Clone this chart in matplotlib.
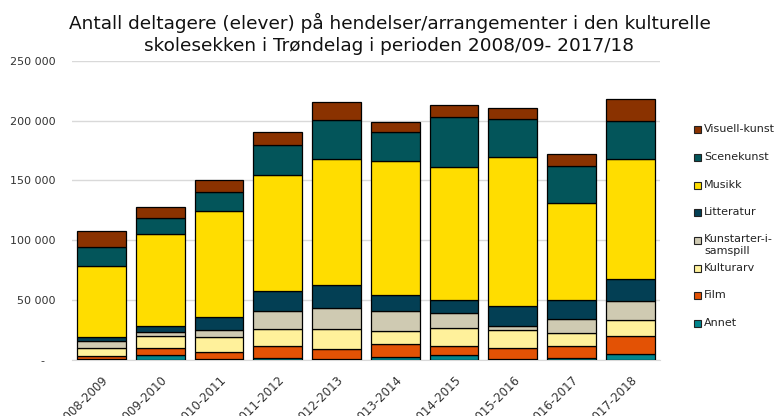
import matplotlib
matplotlib.use("Agg")
from matplotlib import pyplot as plt
from matplotlib.patches import Rectangle
import numpy as np

years = ["2008-2009", "2009-2010", "2010-2011", "2011-2012", "2012-2013",
         "2013-2014", "2014-2015", "2015-2016", "2016-2017", "2017-2018"]

# stacked bottom -> top
annet = [500, 3800, 300, 1400, 500, 2000, 3800, 300, 1500, 4600]
film = [2700, 5600, 6300, 10000, 8000, 11200, 7300, 9000, 9700, 14800]
kulturarv = [6700, 10000, 12600, 13900, 16800, 10600, 15600, 15600, 11200, 13400]
kunstarter = [5300, 3400, 5900, 15600, 17900, 16500, 12600, 3400, 11400, 16400]
litteratur = [3300, 5500, 10600, 16200, 19300, 14000, 10900, 16800, 16200, 18200]
musikk = [60000, 76500, 89000, 97500, 105500, 111600, 111400, 124500, 81200, 100800]
scenekunst = [15900, 13400, 15900, 25400, 32400, 24300, 41900, 31800, 30700, 31800]
visuell = [13400, 9500, 9800, 10300, 15100, 9000, 9500, 9200, 10400, 18200]

series = [
    ("Annet", annet, "#00858D"),
    ("Film", film, "#E35205"),
    ("Kulturarv", kulturarv, "#FFF19B"),
    ("Kunstarter-i-\nsamspill", kunstarter, "#CFCAB2"),
    ("Litteratur", litteratur, "#033F54"),
    ("Musikk", musikk, "#FFDD00"),
    ("Scenekunst", scenekunst, "#03555A"),
    ("Visuell-kunst", visuell, "#8A3200"),
]

fig = plt.figure(figsize=(7.79, 4.16), dpi=100)
ax = fig.add_axes([0.0924, 0.1358, 0.7546, 0.7176])

x = np.arange(len(years))
bottom = np.zeros(len(years))
for name, vals, col in series:
    ax.bar(x, vals, 0.83, bottom=bottom, color=col, edgecolor="black",
           linewidth=0.9, zorder=3)
    bottom += np.array(vals)

ax.set_xlim(-0.5, len(years) - 0.5)
ax.set_ylim(0, 250000)
yt = np.arange(0, 250001, 50000)
ax.set_yticks(yt)
ax.set_yticklabels(["-   "] + [f"{v:,}".replace(",", " ") for v in yt[1:]],
                   fontsize=8, color="#333333")
ax.set_xticks(x)
ax.set_xticklabels(years, rotation=45, ha="right", rotation_mode="anchor",
                   fontsize=8.5, color="#333333")
ax.tick_params(axis="both", length=0, pad=12)
ax.tick_params(axis="x", pad=10)
ax.grid(axis="y", color="#D9D9D9", linewidth=1, zorder=0)
for s in ["top", "right", "left"]:
    ax.spines[s].set_visible(False)
ax.spines["bottom"].set_color("#D9D9D9")

fig.text(0.5, 0.968, "Antall deltagere (elever) på hendelser/arrangementer i den kulturelle\n"
         "skolesekken i Trøndelag i perioden 2008/09- 2017/18",
         ha="center", va="top", fontsize=13.3, linespacing=1.25, color="#111111")

# legend, top entry first
leg_y = [129, 157, 185, 212, 240, 268, 295, 323]
for (name, vals, col), yy in zip(series[::-1], leg_y):
    fig.patches.append(Rectangle((694 / 779, 1 - (yy + 4) / 416), 7 / 779, 7 / 416,
                                 transform=fig.transFigure, facecolor=col,
                                 edgecolor="#222222", linewidth=0.8))
    if "\n" in name:
        fig.text(704 / 779, 1 - (yy - 6) / 416, name, ha="left", va="top",
                 fontsize=8, color="#222222", linespacing=1.2)
    else:
        fig.text(704 / 779, 1 - yy / 416, name, ha="left", va="center",
                 fontsize=8, color="#222222")

fig.savefig("out.png", dpi=100)
